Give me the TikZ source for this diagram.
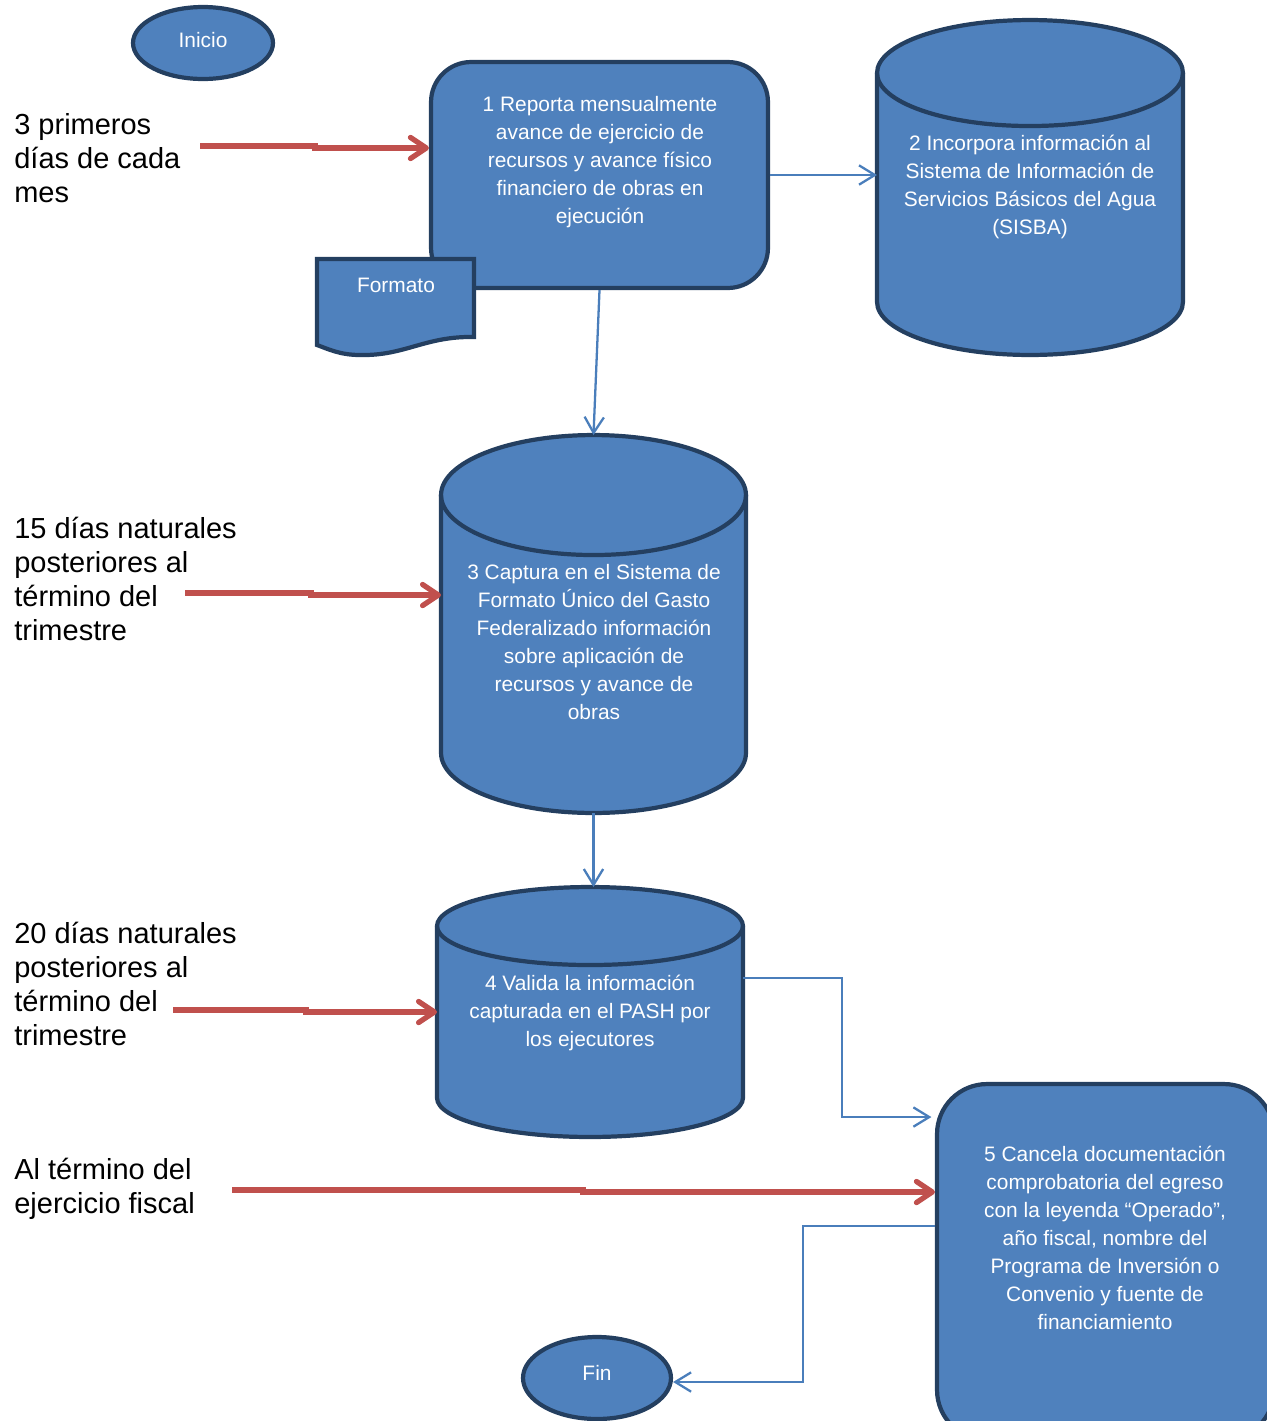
\documentclass[tikz,border=0pt]{standalone}
\usepackage{fontspec}
\setmainfont{Liberation Sans}
\usetikzlibrary{shapes.geometric,arrows.meta,positioning,calc}

\definecolor{boxfill}{HTML}{4F81BD}
\definecolor{boxline}{HTML}{243F60}
\definecolor{flowblue}{HTML}{4A7EBB}
\definecolor{timered}{HTML}{C0504D}

\tikzset{
  shapeline/.style={draw=boxline, line width=2.4pt, fill=boxfill},
  terminal/.style={ellipse, shapeline, text=white, inner sep=0pt, font=\fontsize{11.9}{14}\selectfont},
  procbox/.style={rectangle, shapeline, minimum width=6.74cm},
  body/.style={rectangle, inner sep=0pt, outer sep=0pt},
  boxtext/.style={text=white, align=center, inner sep=0pt, font=\fontsize{11.9}{15.9}\selectfont},
  timelbl/.style={anchor=west, align=left, inner sep=0pt, font=\fontsize{16.5}{19.3}\selectfont},
  flow/.style={draw=flowblue, line width=1.3pt, -{Straight Barb[length=9pt,width=11pt]}},
  timearrow/.style={draw=timered, line width=3pt, -{Straight Barb[length=9pt,width=12pt,round]}},
}

% cylinder drawn round an empty body node: name, x radius, y radius
\newcommand{\cylbody}[3]{%
  \draw[shapeline] ([yshift=-#3]#1.north west) -- ([yshift=#3]#1.south west)
    arc[start angle=180, end angle=360, x radius=#2, y radius=#3]
    -- ([yshift=-#3]#1.north east)
    arc[start angle=0, end angle=180, x radius=#2, y radius=#3] -- cycle;
  \draw[draw=boxline, line width=2.4pt] ([yshift=-#3]#1.north west)
    arc[start angle=180, end angle=360, x radius=#2, y radius=#3];
}

\begin{document}
\begin{tikzpicture}[x=0.02cm, y=-0.02cm]
    \useasboundingbox (0,0) rectangle (1267,1421);

    % Start
    \node [terminal, text depth=3.4pt, minimum width=2.8cm, minimum height=1.44cm] (inicio) at (203,43) {Inicio};

    % 1 Report
    \node [procbox, rounded corners=0.8cm, minimum height=4.52cm] (box1) at (599.5,175) {};
    \node [boxtext] (t1) at (600,162) {1 Reporta mensualmente\\avance de ejercicio de\\recursos y avance físico\\financiero de obras en\\ejecución};

    % Formato document
    \draw [shapeline] (317,259) -- (474,259) -- (474,337)
        .. controls (425,336) and (405,356) .. (360,355)
        .. controls (340,355) and (328,349) .. (317,345) -- cycle;
    \node [boxtext] (fmt) at (396,285) {Formato};

    % 2 SISBA
    \node [body, minimum width=6.12cm, minimum height=6.7cm] (cyl2) at (1030,187.5) {};
    \cylbody{cyl2}{3.06cm}{1.06cm}
    \node [boxtext] (t2) at (1030,187) {2 Incorpora información al\\Sistema de Información de\\Servicios Básicos del Agua\\(SISBA)};

    % 3 Captura
    \node [body, minimum width=6.1cm, minimum height=7.56cm] (cyl3) at (593.5,624) {};
    \cylbody{cyl3}{3.05cm}{1.2cm}
    \node [boxtext] (t3) at (594,642) {3 Captura en el Sistema de\\Formato Único del Gasto\\Federalizado información\\sobre aplicación de\\recursos y avance de\\obras};

    % 4 Valida
    \node [body, minimum width=6.12cm, minimum height=5cm] (cyl4) at (590,1012) {};
    \cylbody{cyl4}{3.06cm}{0.78cm}
    \node [boxtext] (t4) at (590,1013) {4 Valida la información\\capturada en el PASH por\\los ejecutores};

    % 5 Cancela
    \node [procbox, rounded corners=1cm, minimum height=7.12cm] (box5) at (1105.5,1262) {};
    \node [boxtext] (t5) at (1105,1238) {5 Cancela documentación\\comprobatoria del egreso\\con la leyenda “Operado”,\\año fiscal, nombre del\\Programa de Inversión o\\Convenio y fuente de\\financiamiento};

    % End
    \node [terminal, text depth=5.6pt, minimum width=2.96cm, minimum height=1.64cm] (fin) at (597,1378) {Fin};

    % Flow
    \draw [flow] (box1.east) -- (box1.east -| cyl2.west);
    \draw [flow] (box1.south) -- (cyl3.north);
    \draw [flow] (cyl3.south) -- (cyl3.south |- cyl4.north);
    \draw [flow, shorten >=2pt] ([yshift=0.68cm]cyl4.east) -- ++(99,0) |- ([yshift=2.9cm]box5.west);
    \draw [flow] ([yshift=0.72cm]box5.west) -- ++(-132,0) |- ([yshift=-0.08cm]fin.east);

    % Deadlines
    \node [timelbl] (lbl1) at (14,158) {3 primeros\\días de cada\\mes};
    \node [timelbl] (lbl2) at (14,579) {15 días naturales\\posteriores al\\término del\\trimestre};
    \node [timelbl] (lbl3) at (14,984) {20 días naturales\\posteriores al\\término del\\trimestre};
    \node [timelbl] (lbl4) at (14,1189) {Al término del\\ejercicio fiscal};

    \coordinate (r1) at (200,146);
    \coordinate (r2) at (185,593);
    \coordinate (r3) at (173,1010);
    \coordinate (r4) at (232,1190);
    \draw [timearrow] (r1) -- ++(115,0) |- ([yshift=0.54cm]box1.west);
    \draw [timearrow] (r2) -- ++(126,0) |- ([yshift=0.58cm]cyl3.west);
    \draw [timearrow] (r3) -- ++(133,0) |- (cyl4.west);
    \draw [timearrow] (r4) -- ++(351,0) |- ([yshift=1.4cm]box5.west);
\end{tikzpicture}
\end{document}
